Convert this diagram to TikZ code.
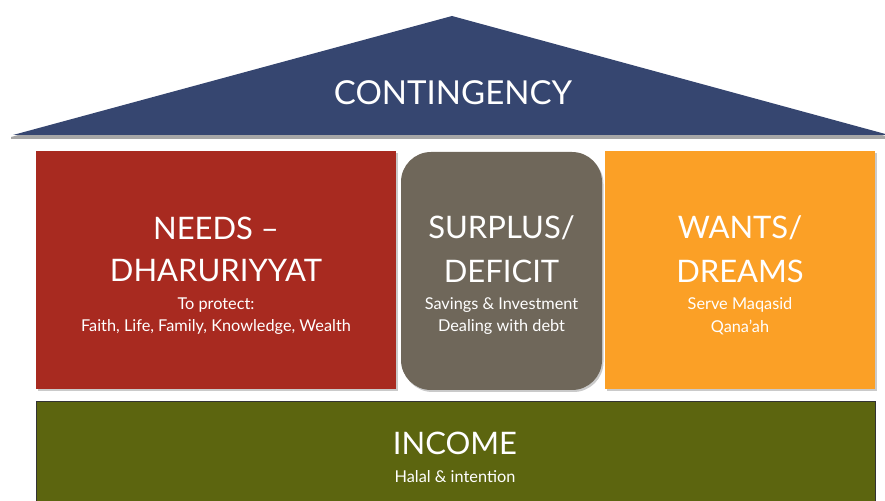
\documentclass[tikz,border=0pt]{standalone}
\usepackage{fontspec}
\setmainfont{Lato}
\usetikzlibrary{shadows,positioning}
\definecolor{roofblue}{HTML}{364670}
\definecolor{needred}{HTML}{A82A20}
\definecolor{surgrey}{HTML}{6F675A}
\definecolor{wantorange}{HTML}{FBA026}
\definecolor{incgreen}{HTML}{5C650F}
\tikzset{
  panel/.style={draw=none, drop shadow={shadow xshift=1.5pt, shadow yshift=-2pt, opacity=0.35, fill=black!60}},
  title/.style={text=white, font=\fontsize{31}{44}\selectfont, align=center, inner sep=0pt},
  sub/.style={text=white, font=\fontsize{16.3}{22}\selectfont, align=center, inner sep=0pt},
}
\begin{document}
\begin{tikzpicture}[x=1pt,y=1pt]
\useasboundingbox (0,0) rectangle (885,500);
\clip (0,0) rectangle (885,500);
% roof
\fill[black!35] (11,363) -- (452,482) -- (889,363) -- (889,361) -- (11,361) -- cycle;
\fill[roofblue] (13,365) -- (452,484) -- (889,365) -- cycle;
\node[title, font=\fontsize{33}{44}\selectfont] (cont) at (453,407) {CONTINGENCY};
% boxes
\fill[needred, panel] (36,111) rectangle (396,349);
\fill[surgrey, panel, rounded corners=30pt] (401,110) rectangle (602,348);
\fill[wantorange, panel] (605,111) rectangle (875,349);
\fill[incgreen, draw=black!80, line width=0.8pt] (36,-10) rectangle (875,99);
% texts
\node[title] (n1) at (216,272) {NEEDS –};
\node[title] (n2) at (216,229) {DHARURIYYAT};
\node[sub] (n3) at (216,195) {To protect:};
\node[sub] (n4) at (216,173) {Faith, Life, Family, Knowledge, Wealth};
\node[title] (s1) at (501.5,272) {SURPLUS/};
\node[title] (s2) at (501.5,229) {DEFICIT};
\node[sub] (s3) at (501.5,195) {Savings \& Investment};
\node[sub] (s4) at (501.5,173) {Dealing with debt};
\node[title] (w1) at (740,272) {WANTS/};
\node[title] (w2) at (740,229) {DREAMS};
\node[sub] (w3) at (740,195) {Serve Maqasid};
\node[sub] (w4) at (740,173) {Qana’ah};
\node[title] (i1) at (455,57) {INCOME};
\node[sub] (i2) at (455,23) {Halal \& intention};
\end{tikzpicture}
\end{document}
